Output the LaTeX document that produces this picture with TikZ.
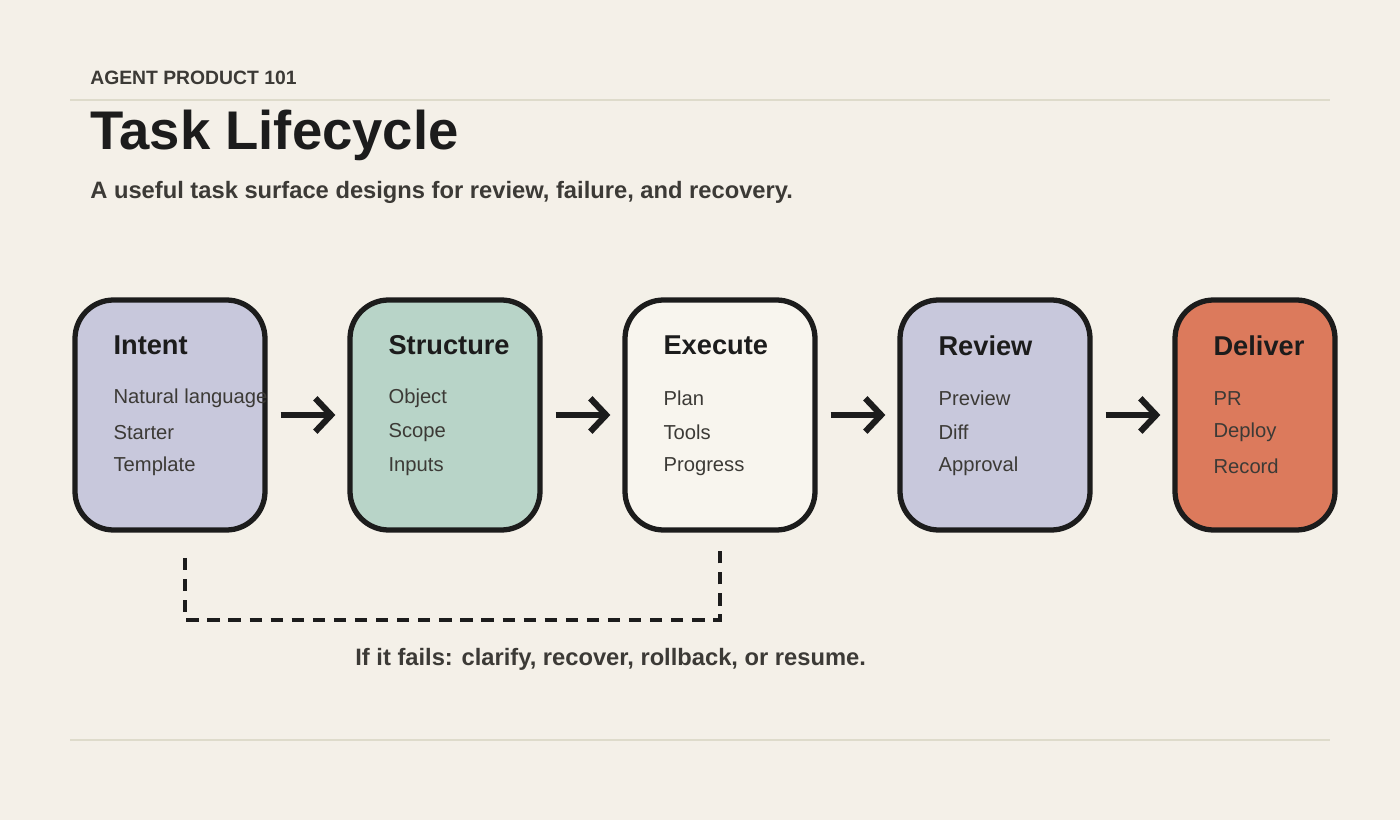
\documentclass[tikz,border=0pt]{standalone}
\usepackage{fontspec}
\setmainfont{Liberation Sans}
\usetikzlibrary{arrows.meta,positioning}
\definecolor{paper}{HTML}{F4F0E8}
\definecolor{rulegray}{HTML}{DEDBCB}
\definecolor{lavender}{HTML}{C8C8DC}
\definecolor{sage}{HTML}{B8D4C8}
\definecolor{cream}{HTML}{F8F5EE}
\definecolor{terracotta}{HTML}{DC7A5C}
\definecolor{ink}{HTML}{1C1C1C}
\definecolor{inksoft}{HTML}{3C3A36}

\tikzset{
  stage/.style={draw=ink, line width=3pt, rounded corners=22pt, minimum height=230*0.02cm, inner sep=0pt},
  stagetitle/.style={anchor=west, font=\fontsize{15.5}{18}\selectfont\bfseries, text=ink},
  stageitem/.style={anchor=west, font=\fontsize{11.5}{14}\selectfont, text=inksoft},
  flow/.style={draw=ink, line width=3.5pt, -{Straight Barb[length=9pt,width=19pt,line width=3.5pt]}, shorten <=13*0.02cm, shorten >=12*0.02cm},
}

\begin{document}
\begin{tikzpicture}[x=0.02cm, y=-0.02cm]
            \fill[paper] (0,0) rectangle (1400,820);
            \useasboundingbox (0,0) rectangle (1400,820);
            % header
            \node[anchor=base west, font=\fontsize{11}{13}\selectfont\bfseries, text=inksoft, inner sep=0pt] (kicker) at (90,85) {AGENT PRODUCT 101};
            \draw[rulegray, line width=1.2pt] (70,100) -- (1330,100);
            \node[anchor=base west, font=\fontsize{31}{36}\selectfont\bfseries, text=ink, inner sep=0pt] (title) at (90,150) {Task Lifecycle};
            \node[anchor=base west, font=\fontsize{13.5}{16}\selectfont\bfseries, text=inksoft, inner sep=0pt] (subtitle) at (90,199) {A useful task surface designs for review, failure, and recovery.};
            % stages
            \foreach \name/\cx/\w/\col/\head/\a/\b/\c in {
                intent/170/190/lavender/Intent/Natural language/Starter/Template,
                structure/445/190/sage/Structure/Object/Scope/Inputs,
                execute/720/190/cream/Execute/Plan/Tools/Progress,
                review/995/190/lavender/Review/Preview/Diff/Approval,
                deliver/1255/160/terracotta/Deliver/PR/Deploy/Record}{
              \node[stage, fill=\col, minimum width=\w*0.02cm] (\name) at (\cx,415) {};
              \node[stagetitle] at ([xshift=35*0.02cm, yshift=-48*0.02cm]\name.north west) {\head};
              \node[stageitem] at ([xshift=35*0.02cm, yshift=-101*0.02cm]\name.north west) {\a};
              \node[stageitem] at ([xshift=35*0.02cm, yshift=-135*0.02cm]\name.north west) {\b};
              \node[stageitem] at ([xshift=35*0.02cm, yshift=-169*0.02cm]\name.north west) {\c};
            }
            \draw[flow] (intent) -- (structure);
            \draw[flow] (structure) -- (execute);
            \draw[flow] (execute) -- (review);
            \draw[flow] (review) -- (deliver);
            % recovery loop
            \coordinate (loopstart) at (185,558);
            \coordinate (loopend) at (720,548);
            \draw[ink, line width=2.5pt, dash pattern=on 7pt off 5pt] (loopstart) -- (185,620) -- (720,620) -- (loopend);
            \node[anchor=base west, font=\fontsize{13.5}{16}\selectfont\bfseries, text=inksoft, inner sep=0pt] (caption) at (355,665) {If it fails: clarify, recover, rollback, or resume.};
            \draw[rulegray, line width=1.2pt] (70,740) -- (1330,740);
\end{tikzpicture}
\end{document}
